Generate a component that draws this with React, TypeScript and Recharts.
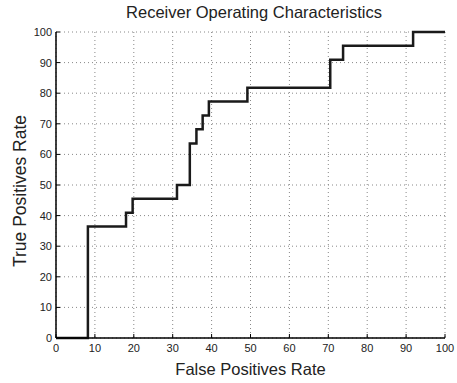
import React from 'react';
import { LineChart, Line, XAxis, YAxis, CartesianGrid, Label } from 'recharts';

// ROC curve points (false positive %, true positive %)
const fprValues = [0, 8.2, 18.0, 19.7, 31.1, 34.4, 36.1, 37.7, 39.3, 49.2, 70.5, 73.8, 91.8, 100];
const tprValues = [0, 36.4, 40.9, 45.5, 50.0, 63.6, 68.2, 72.7, 77.3, 81.8, 90.9, 95.5, 100, 100];
const axisTicks = [0, 10, 20, 30, 40, 50, 60, 70, 80, 90, 100];

const rocData = fprValues.map((fpr, i) => ({ fpr, tpr: tprValues[i] }));

const FONT = '"Liberation Sans", Arial, Helvetica, sans-serif';

// drop the default body margin so the chart sits at the page origin
if (typeof document !== 'undefined') document.body.style.margin = '0';

const XTick = (props: any) => {
  const { x, y, payload } = props;
  return (
    <g>
      <line x1={x} x2={x} y1={y - 6} y2={y - 10} stroke="#000" strokeWidth={1} />
      <text x={x} y={y} dy="0.71em" textAnchor="middle" fontSize={11} fill="#222" fontFamily={FONT}>
        {payload.value}
      </text>
    </g>
  );
};

const YTick = (props: any) => {
  const { x, y, payload } = props;
  return (
    <g>
      <line x1={x + 4} x2={x + 8} y1={y} y2={y} stroke="#000" strokeWidth={1} />
      <text x={x} y={y} dy="0.36em" textAnchor="end" fontSize={11} fill="#222" fontFamily={FONT}>
        {payload.value}
      </text>
    </g>
  );
};

const YTitle = () => (
  <text
    transform="translate(26,191) rotate(-90)"
    textAnchor="middle"
    fontSize={17.5}
    fill="#222"
    fontFamily={FONT}
  >
    True Positives Rate
  </text>
);

export default function App() {
  return (
    <div style={{ position: 'relative', width: 457, height: 383, background: '#fff', fontFamily: FONT }}>
      <LineChart width={457} height={383} data={rocData} margin={{ top: 32, right: 12, bottom: 0, left: 0 }}>
        <CartesianGrid stroke="#888" strokeDasharray="1 3" />
        <XAxis
          dataKey="fpr"
          type="number"
          domain={[0, 100]}
          ticks={axisTicks}
          interval={0}
          height={45}
          tickSize={0}
          tickMargin={6}
          tick={<XTick />}
          axisLine={{ stroke: '#000', strokeWidth: 1.5 }}
        >
          <Label value="False Positives Rate" position="insideBottom" offset={8} fontSize={16.5} fill="#222" fontFamily={FONT} />
        </XAxis>
        <YAxis
          type="number"
          domain={[0, 100]}
          ticks={axisTicks}
          interval={0}
          width={56}
          tickSize={0}
          tickMargin={4}
          tick={<YTick />}
          axisLine={{ stroke: '#000', strokeWidth: 1.5 }}
        >
          <Label content={<YTitle />} />
        </YAxis>
        <Line
          type="stepAfter"
          dataKey="tpr"
          stroke="#1a1a1a"
          strokeWidth={2.5}
          dot={false}
          activeDot={false}
          isAnimationActive={false}
        />
      </LineChart>
      <svg width={457} height={26} style={{ position: 'absolute', left: 0, top: 0, pointerEvents: 'none' }}>
        <text x={254} y={17.5} textAnchor="middle" fontSize={16.5} fill="#222" fontFamily={FONT}>
          Receiver Operating Characteristics
        </text>
      </svg>
    </div>
  );
}
